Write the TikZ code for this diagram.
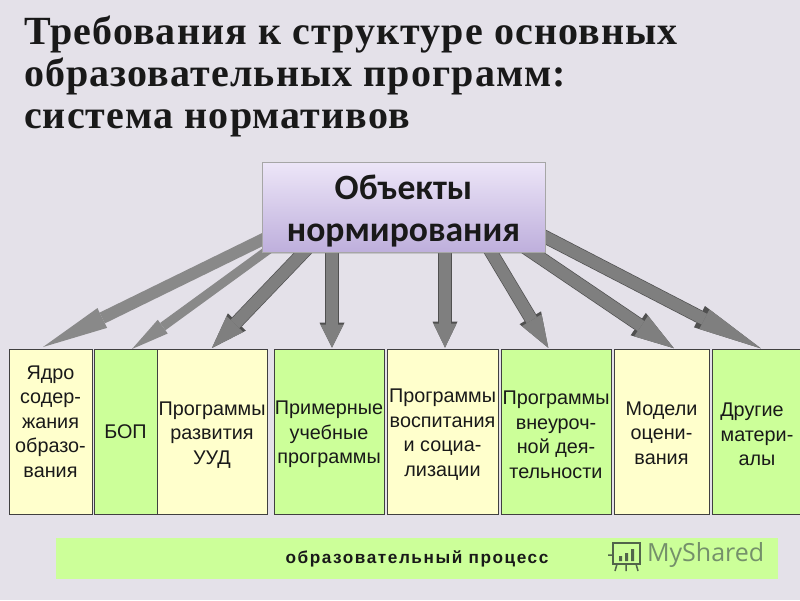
\documentclass[tikz,border=0pt]{standalone}
\usepackage{fontspec}
\setmainfont{Liberation Sans}
\newfontfamily\titlefont{Liberation Serif}[LetterSpace=2.8]
\newfontfamily\objfont{Carlito}
\newfontfamily\brandfont{Open Sans}
\newfontfamily\barfont{Liberation Sans}[LetterSpace=9]
\usepackage{tikz}
\usetikzlibrary{positioning, arrows.meta, shadows, backgrounds}

\definecolor{pagecol}{HTML}{E4E1E9}
\definecolor{yellowcol}{HTML}{FFFFCC}
\definecolor{greencol}{HTML}{CCFF99}
\definecolor{arrowcol}{HTML}{7F7F7F}
\definecolor{edgecol}{HTML}{505050}
\definecolor{brandcol}{HTML}{74906A}
\definecolor{objtop}{HTML}{EDE6F8}
\definecolor{objbottom}{HTML}{BEAFDC}

\newcommand{\dropline}{\rule{0pt}{20pt}}

\begin{document}
\begin{tikzpicture}[
    x=1pt, y=-1pt,
    every node/.style={outer sep=0pt, text=black!90},
    box/.style={
        rectangle, draw=black!75, line width=1pt,
        align=center, inner sep=0pt,
        minimum height=165pt,
        font=\fontsize{19.8}{24.5}\selectfont
    },
    ybox/.style={box, fill=yellowcol},
    gbox/.style={box, fill=greencol},
    blockarrow/.style n args={3}{
        preaction={draw=edgecol, line width=#1pt+1.4pt,
            -{Triangle[length=#2pt, width=#3pt, line width=0pt 0 0]}},
        draw=arrowcol, line width=#1pt, shorten >=1.4pt,
        -{Triangle[length=#2pt, width=#3pt, line width=0pt 0 0, scale=0.92]}
    },
    softarrow/.style n args={3}{
        draw=arrowcol!92!white, line width=#1pt,
        -{Triangle[length=#2pt, width=#3pt, line width=0pt 0 0]}
    }
]

\useasboundingbox (0,0) rectangle (800,600);
\begin{scope}[on background layer]
\fill[pagecol] (0,0) rectangle (800,600);
\end{scope}

% --- Title ---
\node[anchor=north west, align=left, inner sep=0pt,
      font=\titlefont\bfseries\fontsize{40}{42}\selectfont] (title) at (24,15.5)
    {Требования к структуре основных\\образовательных программ:\\система нормативов};

% --- Top box ---
\node[rectangle, draw=black!35, line width=1pt, align=center, inner sep=0pt,
      minimum width=283pt, minimum height=90pt,
      top color=objtop, bottom color=objbottom,
      drop shadow={shadow xshift=1pt, shadow yshift=-2pt, opacity=0.3},
      font=\objfont\bfseries\fontsize{35.6}{42}\selectfont] (objects) at (403.5,207)
    {\rule{0pt}{32pt}Объекты\\нормирования};

% --- Boxes ---
\node[ybox, minimum width=83pt] (core) at (50.5,431.5) {Ядро\\содер-\\жания\\образо-\\вания\\[-4pt]~};
\node[gbox, minimum width=63pt, right=2pt of core] (bop) {БОП};
\node[ybox, minimum width=110pt, right=0pt of bop] (uud) {\dropline Программы\\развития\hspace*{10pt}\\УУД};
\node[gbox, minimum width=110pt, right=7pt of uud] (sample) {\dropline Примерные\\учебные\\программы};
\node[ybox, minimum width=111pt, right=3pt of sample] (social) {\dropline Программы\\воспитания\\и социа-\\лизации};
\node[gbox, minimum width=110pt, right=3pt of social] (extra) {\dropline Программы\\внеуроч-\\ной дея-\\тельности};
\node[ybox, minimum width=95pt, right=3pt of extra] (models) {\rule{0pt}{17pt}Модели\\оцени-\\вания};
\node[gbox, minimum width=90pt, right=3pt of models] (other) {\dropline Другие\hspace*{10pt}\\матери-\\алы};

% --- Arrows ---
\begin{scope}[on background layer]
\draw[softarrow={12}{66}{22}] ([xshift=20pt,yshift=-23pt]objects.west) -- ([xshift=-7.5pt,yshift=2pt]core.north);
\draw[softarrow={9}{38}{17}] ([xshift=17pt,yshift=10pt]objects.south west) -- ([xshift=6.5pt]bop.north);
\draw[blockarrow={12}{36}{25}] ([xshift=-91pt,yshift=9pt]objects.south) -- ([xshift=-1pt]uud.north);
\draw[blockarrow={12}{25}{25}] ([xshift=-71.5pt,yshift=6pt]objects.south) -- ([xshift=3pt]sample.north);
\draw[blockarrow={12}{26}{25}] ([xshift=41.5pt,yshift=6pt]objects.south) -- ([xshift=2.5pt]social.north);
\draw[blockarrow={12}{35}{25}] ([xshift=81.5pt,yshift=10pt]objects.south) -- ([xshift=-7pt]extra.north);
\draw[blockarrow={12}{43}{27}] ([xshift=113.5pt,yshift=10pt]objects.south) -- ([xshift=13.5pt]models.north);
\draw[blockarrow={12}{69}{24}] ([xshift=-19pt,yshift=-20pt]objects.east) -- ([xshift=5pt]other.north);
\end{scope}

% --- Bottom bar ---
\node[rectangle, fill=greencol, minimum width=722pt, minimum height=41pt, inner sep=0pt,
      font=\barfont\bfseries\fontsize{17.2}{20}\selectfont] (process) at (417,558.5)
    {образовательный процесс};

% Watermark
\node[anchor=west, inner sep=0pt, text=brandcol,
      font=\brandfont\fontsize{25}{30}\selectfont] (brand) at (647,555) {MyShared};
\draw[brandcol!70!black, line width=1.5pt] (613,543) rectangle (640,564);
\draw[brandcol!70!black, line width=1.5pt] (608,555) -- (613,555) (617,564) -- (615,571) (636,564) -- (638,571) (626,564) -- (626,571);
\fill[brandcol!70!black] (619,556) rectangle (622,561) (625,553) rectangle (628,561) (631,549) rectangle (634,561);

\end{tikzpicture}
\end{document}
